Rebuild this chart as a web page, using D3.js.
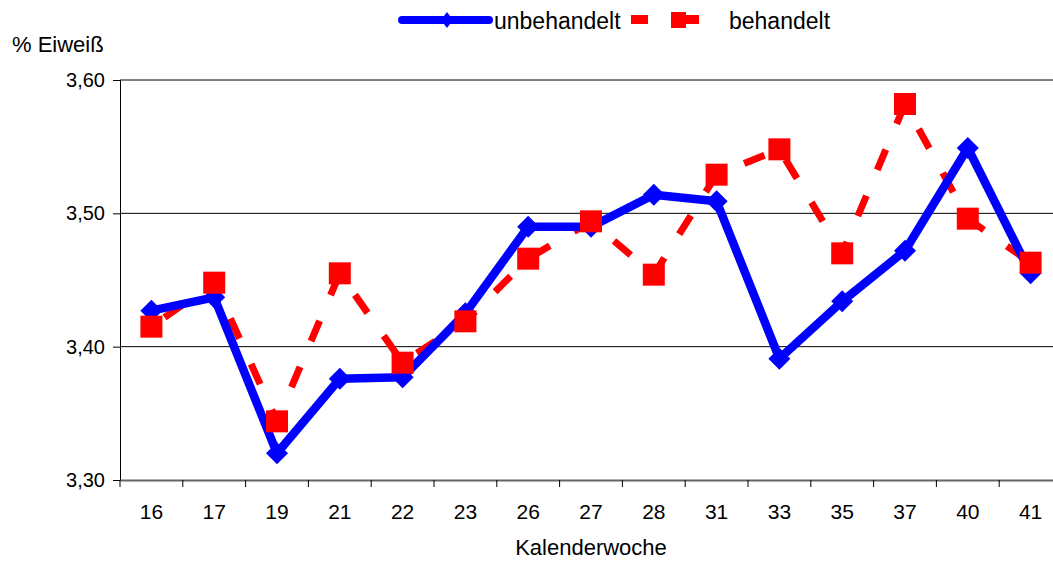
<!DOCTYPE html>
<html>
<head>
<meta charset="utf-8">
<script src="https://cdn.jsdelivr.net/npm/d3@7"></script>
<style>
  body { margin: 0; background: #fff; }
  text { font-family: "Liberation Sans", Arial, sans-serif; }
</style>
</head>
<body>
<div id="chart"></div>
<script>
// data
var weeks = ['16', '17', '19', '21', '22', '23', '26', '27', '28', '31', '33', '35', '37', '40', '41'];
var unbehandelt = [3.427, 3.437, 3.320, 3.376, 3.377, 3.425, 3.490, 3.490, 3.514, 3.509, 3.391, 3.434, 3.472, 3.549, 3.455];
var behandelt = [3.415, 3.448, 3.344, 3.455, 3.388, 3.419, 3.466, 3.494, 3.454, 3.529, 3.548, 3.470, 3.582, 3.496, 3.463];
var y_ticks = [3.30, 3.40, 3.50, 3.60];

var chart_width = 1053, chart_height = 561;
var left = 120, top_y = 80, bottom_y = 480;
var plot_right = left + 15 * 62.8; // runs past the window edge like the original

var svg = d3.select('#chart')
  .append('svg')
  .attr('width', chart_width)
  .attr('height', chart_height);

var x_scale = d3.scaleBand()
  .domain(weeks)
  .range([left, plot_right]);

var y_scale = d3.scaleLinear()
  .domain([3.30, 3.60])
  .range([bottom_y, top_y]);

var fmt = (d) => d.toFixed(2).replace('.', ',');

// gridlines
svg.selectAll('.grid')
  .data(y_ticks.slice(1))
  .enter()
  .append('line')
  .attr('x1', left)
  .attr('x2', plot_right)
  .attr('y1', (d) => y_scale(d))
  .attr('y2', (d) => y_scale(d))
  .attr('stroke', '#000')
  .attr('stroke-width', 1);

// y axis
var y_axis = svg.append('g')
  .attr('transform', 'translate(' + left + ',0)')
  .call(d3.axisLeft(y_scale).tickValues(y_ticks).tickFormat(fmt).tickSize(7).tickPadding(8));
y_axis.select('.domain').attr('stroke', '#000');
y_axis.selectAll('.tick line').attr('stroke', '#000');
y_axis.selectAll('text').attr('font-size', 20).attr('fill', '#000')
  .style('font-family', '"Liberation Sans", Arial, sans-serif');

// x axis
var x_axis = svg.append('g')
  .attr('transform', 'translate(0,' + bottom_y + ')')
  .call(d3.axisBottom(x_scale).tickSize(0).tickPadding(24));
x_axis.select('.domain').attr('stroke', '#666').attr('stroke-width', 2);
x_axis.selectAll('text').attr('font-size', 21).attr('fill', '#000')
  .style('font-family', '"Liberation Sans", Arial, sans-serif');

// tick marks between categories
svg.selectAll('.xtick')
  .data(weeks)
  .enter()
  .append('line')
  .attr('x1', (d) => x_scale(d))
  .attr('x2', (d) => x_scale(d))
  .attr('y1', bottom_y)
  .attr('y2', bottom_y + 7)
  .attr('stroke', '#000');

var cx = (d, i) => x_scale(weeks[i]) + x_scale.bandwidth() / 2;

var line = d3.line()
  .x((d, i) => cx(d, i))
  .y((d) => y_scale(d));

// behandelt (red, dashed, squares)
svg.append('path')
  .datum(behandelt)
  .attr('d', line)
  .attr('fill', 'none')
  .attr('stroke', '#ff0000')
  .attr('stroke-width', 7)
  .attr('stroke-dasharray', '22,28')
  .attr('stroke-dashoffset', -16);

// unbehandelt (blue, solid, diamonds)
svg.append('path')
  .datum(unbehandelt)
  .attr('d', line)
  .attr('fill', 'none')
  .attr('stroke', '#0000ff')
  .attr('stroke-width', 8.5)
  .attr('stroke-linejoin', 'round');

svg.selectAll('.diamond')
  .data(unbehandelt)
  .enter()
  .append('path')
  .attr('d', 'M0,-11L11,0L0,11L-11,0Z')
  .attr('transform', (d, i) => 'translate(' + cx(d, i) + ',' + y_scale(d) + ')')
  .attr('fill', '#0000ff');

svg.selectAll('.square')
  .data(behandelt)
  .enter()
  .append('rect')
  .attr('x', (d, i) => cx(d, i) - 11)
  .attr('y', (d) => y_scale(d) - 11)
  .attr('width', 22)
  .attr('height', 22)
  .attr('fill', '#ff0000');

// titles
svg.append('text')
  .attr('x', 12)
  .attr('y', 52)
  .attr('font-size', 22)
  .text('% Eiweiß');

svg.append('text')
  .attr('x', 591)
  .attr('y', 555)
  .attr('text-anchor', 'middle')
  .attr('font-size', 22)
  .text('Kalenderwoche');

// legend
var legend_y = 20;
svg.append('line')
  .attr('x1', 402).attr('x2', 489)
  .attr('y1', legend_y).attr('y2', legend_y)
  .attr('stroke', '#0000ff')
  .attr('stroke-width', 8)
  .attr('stroke-linecap', 'round');
svg.append('path')
  .attr('d', 'M0,-8L6,0L0,8L-6,0Z')
  .attr('transform', 'translate(447,' + legend_y + ')')
  .attr('fill', '#0000ff');
svg.append('text')
  .attr('x', 494).attr('y', legend_y + 9)
  .attr('font-size', 23)
  .text('unbehandelt');

svg.append('rect')
  .attr('x', 631).attr('y', legend_y - 5)
  .attr('width', 17).attr('height', 9)
  .attr('fill', '#ff0000');
svg.append('rect')
  .attr('x', 671).attr('y', legend_y - 8)
  .attr('width', 15).attr('height', 16)
  .attr('fill', '#ff0000');
svg.append('rect')
  .attr('x', 685).attr('y', legend_y - 5)
  .attr('width', 14).attr('height', 9)
  .attr('fill', '#ff0000');
svg.append('text')
  .attr('x', 729).attr('y', legend_y + 9)
  .attr('font-size', 23)
  .text('behandelt');
</script>
</body>
</html>
